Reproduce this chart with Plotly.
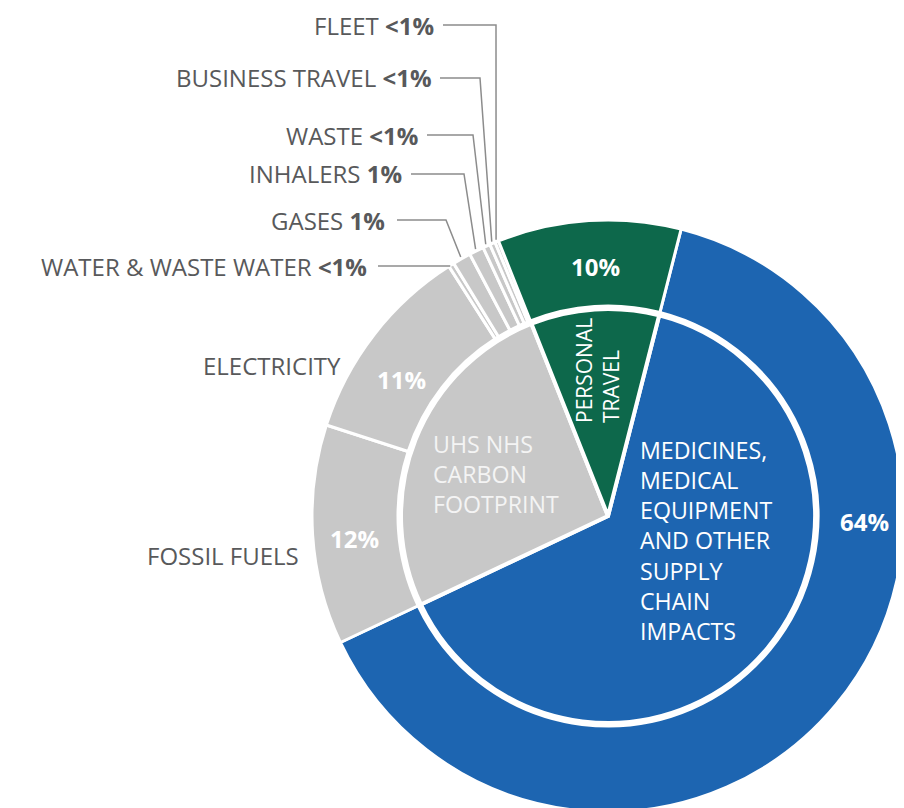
import plotly.graph_objects as go
import math

# ---------------- data ----------------
outer_labels = ["MEDICINES, MEDICAL EQUIPMENT AND OTHER SUPPLY CHAIN IMPACTS",
                "FOSSIL FUELS", "ELECTRICITY", "WATER & WASTE WATER", "GASES",
                "INHALERS", "WASTE", "BUSINESS TRAVEL", "FLEET", "PERSONAL TRAVEL"]
outer_values = [64, 12, 11, 0.3, 1.0, 0.8, 0.4, 0.3, 0.2, 10]
outer_pct = ["64%", "12%", "11%", "<1%", "1%", "1%", "<1%", "<1%", "<1%", "10%"]

inner_labels = ["MEDICINES,<br>MEDICAL<br>EQUIPMENT<br>AND OTHER<br>SUPPLY<br>CHAIN<br>IMPACTS",
                "UHS NHS<br>CARBON<br>FOOTPRINT", "PERSONAL<br>TRAVEL"]
inner_values = [64, 26, 10]

# ---------------- style / layout ----------------
W, H = 904, 808
OFF = 8          # page body margin offset
BLUE, GREEN, GREY = "#1d65b1", "#0d684b", "#c8c8c8"
TEXT = "#58595b"
LEAD = "#8c8c8c"
FONT = "Open Sans"
ROT = 14.3
CX, CY, R = 608, 516, 296      # window pixel coords
R_IN = 207
HOLE_R = 210

outer_colors = [BLUE, GREY, GREY, GREY, GREY, GREY, GREY, GREY, GREY, GREEN]
inner_colors = [BLUE, GREY, GREEN]


def px(x):
    return (x - OFF) / W


def py(y):
    return 1 - (y - OFF) / H


fig = go.Figure()
fig.add_trace(go.Pie(
    values=outer_values, labels=outer_labels, sort=False, direction="clockwise",
    rotation=ROT, hole=HOLE_R / R, textinfo="none", hoverinfo="label+percent",
    marker=dict(colors=outer_colors, line=dict(color="white", width=3)),
    domain=dict(x=[px(CX - R), px(CX + R)], y=[py(CY + R), py(CY - R)]),
    showlegend=False,
))
fig.add_trace(go.Pie(
    values=inner_values, labels=inner_labels, sort=False, direction="clockwise",
    rotation=ROT, textinfo="none", hoverinfo="percent",
    marker=dict(colors=inner_colors, line=dict(color="white", width=4)),
    domain=dict(x=[px(CX - R_IN), px(CX + R_IN)], y=[py(CY + R_IN), py(CY - R_IN)]),
    showlegend=False,
))

annotations = []
shapes = []

# percentage labels inside the outer ring (pixel positions = layout)
pct_pos = {0: (864, 521), 1: (354, 538), 2: (401, 379), 9: (595, 266)}
for i, (x, y) in pct_pos.items():
    annotations.append(dict(x=px(x), y=py(y), xref="paper", yref="paper",
                            text="<b>%s</b>" % outer_pct[i], showarrow=False,
                            font=dict(family=FONT, size=24, color="white"),
                            xanchor="center", yanchor="middle"))

# inner labels
annotations.append(dict(x=px(638), y=py(540), xref="paper", yref="paper",
                        text=inner_labels[0], showarrow=False, align="left",
                        font=dict(family=FONT, size=23.2, color="white"),
                        xanchor="left", yanchor="middle"))
annotations.append(dict(x=px(431), y=py(474), xref="paper", yref="paper",
                        text=inner_labels[1], showarrow=False, align="left",
                        font=dict(family=FONT, size=23.2, color="#f4f4f4"),
                        xanchor="left", yanchor="middle"))
annotations.append(dict(x=px(597), y=py(371), xref="paper", yref="paper",
                        text=inner_labels[2], showarrow=False, align="left",
                        textangle=-90,
                        font=dict(family=FONT, size=21, color="white"),
                        xanchor="center", yanchor="middle"))

# outer labels without leaders
annotations.append(dict(x=px(343), y=py(365), xref="paper", yref="paper",
                        text=outer_labels[2], showarrow=False,
                        font=dict(family=FONT, size=24, color=TEXT),
                        xanchor="right", yanchor="middle"))
annotations.append(dict(x=px(301), y=py(555), xref="paper", yref="paper",
                        text=outer_labels[1], showarrow=False,
                        font=dict(family=FONT, size=24, color=TEXT),
                        xanchor="right", yanchor="middle"))

# small slices with leader lines: index -> (label y, text right end, line start x, elbow x)
leaders = {
    8: (25, 436, 443, 496),
    7: (78, 434, 440, 480),
    6: (135, 420, 427, 473),
    5: (174, 404, 411, 464),
    4: (220, 387, 397, 446),
    3: (266, 369, 378, None),
}
total = sum(outer_values)
cum = 0.0
mids = []
for v in outer_values:
    mids.append(ROT + (cum + v / 2) / total * 360)
    cum += v

for i, (ly, tx, lx, ex) in leaders.items():
    a = math.radians(mids[i])
    endx = CX + (R + 2) * math.sin(a)
    endy = CY - (R + 2) * math.cos(a)
    if ex is None:
        ex = endx
        endy = ly
    annotations.append(dict(x=px(tx), y=py(ly), xref="paper", yref="paper",
                            text="%s <b>%s</b>" % (outer_labels[i],
                                                   outer_pct[i].replace("<", "&lt;")),
                            showarrow=False,
                            font=dict(family=FONT, size=24, color=TEXT),
                            xanchor="right", yanchor="middle"))
    path = "M %f,%f L %f,%f L %f,%f" % (px(lx), py(ly), px(ex), py(ly), px(endx), py(endy))
    shapes.append(dict(type="path", xref="paper", yref="paper", path=path,
                       line=dict(color=LEAD, width=1.5)))

fig.update_layout(
    width=W, height=H, margin=dict(l=0, r=0, t=0, b=0),
    paper_bgcolor="white", plot_bgcolor="white",
    annotations=annotations, shapes=shapes, showlegend=False,
    font=dict(family=FONT),
)
fig.write_html("out.html")
